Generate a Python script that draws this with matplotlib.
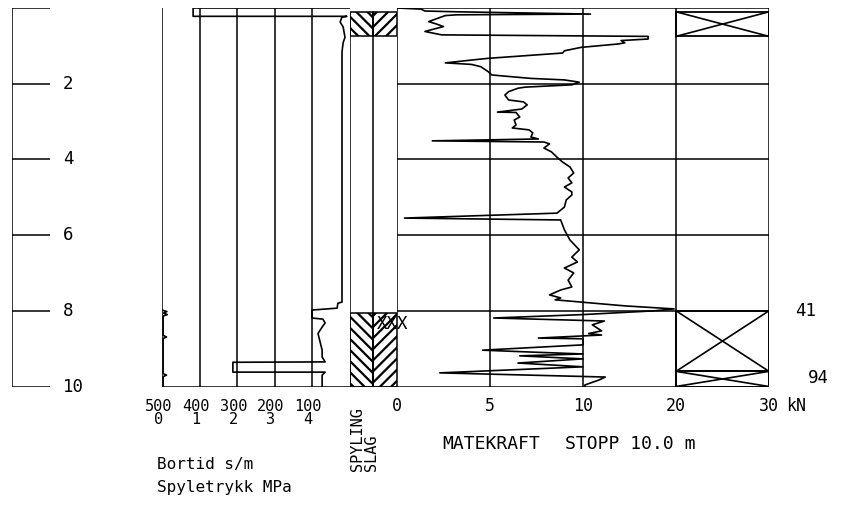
import numpy as np
import matplotlib
matplotlib.use('Agg')
import matplotlib.pyplot as plt
from matplotlib.patches import Rectangle
import matplotlib.transforms as mtransforms

plt.rcParams['font.family'] = ['DejaVu Sans Mono']
plt.rcParams['font.size'] = 11
plt.rcParams['hatch.linewidth'] = 1.6

# depth ticks (m)
depth_ticks = [2, 4, 6, 8, 10]

# bortid (s/m) vs depth
bt_depth = [0, 0, 0.22, 0.22, 0.24, 0.37, 0.5, 0.77, 0.92, 1.16, 3.0, 5.0, 7.45, 7.77, 7.8,
            7.93, 7.98, 8.19, 8.22, 8.32, 8.43, 8.6, 9.04, 9.22, 9.35, 9.36, 9.62, 9.62, 9.7, 10]
bt_value = [0, 417, 417, 7, 20, 25, 17, 12, 17, 20, 20, 20, 20, 20, 31,
            33, 100, 100, 71, 65, 73, 84, 73, 73, 65, 311, 311, 65, 73, 73]

# spyletrykk (MPa) vs depth
sp_depth = [7.98, 8.02, 8.06, 8.1, 8.14, 8.2, 8.65, 8.69, 8.73, 9.66, 9.7, 9.74, 10]
sp_value = [0.0, 0.13, 0.04, 0.14, 0.03, 0.03, 0.03, 0.12, 0.03, 0.03, 0.12, 0.03, 0.03]

# matekraft (kN) vs depth
mk_depth = [0, 0.03, 0.08, 0.1, 0.16, 0.18, 0.2, 0.27, 0.36, 0.42, 0.49, 0.62, 0.66, 0.71, 0.75,
            0.82, 0.86, 0.92, 0.95, 1.04, 1.13, 1.19, 1.33, 1.36, 1.45, 1.49, 1.55, 1.68, 1.77, 1.86,
            1.9, 1.96, 2.03, 2.09, 2.12, 2.21, 2.3, 2.43, 2.48, 2.56, 2.67, 2.75, 2.76, 2.88, 2.96,
            3.09, 3.17, 3.22, 3.3, 3.41, 3.46, 3.51, 3.54, 3.59, 3.7, 3.8, 3.94, 4.07, 4.2, 4.36,
            4.49, 4.62, 4.73, 4.86, 4.94, 5.07, 5.26, 5.42, 5.55, 5.6, 5.86, 6.13, 6.39, 6.58, 6.71,
            6.87, 7.0, 7.19, 7.37, 7.45, 7.58, 7.66, 7.71, 7.87, 7.95, 8.0, 8.1, 8.19, 8.27, 8.37,
            8.53, 8.6, 8.64, 8.72, 8.74, 8.9, 9.04, 9.09, 9.14, 9.19, 9.27, 9.38, 9.48, 9.64, 9.75,
            9.83, 9.96, 10]
mk_value = [0, 1.3, 1.5, 3.2, 10.8, 3.2, 2.6, 2.2, 1.7, 2.1, 2.5, 1.5, 1.9, 2.4, 17.0,
            17.0, 14.1, 14.5, 13.8, 9.9, 9.0, 8.9, 4.9, 4.3, 2.6, 4.0, 4.5, 4.9, 5.1, 7.2,
            9.0, 9.8, 9.4, 6.9, 6.5, 6.0, 5.8, 6.0, 6.8, 7.0, 6.7, 5.4, 6.4, 6.6, 6.3,
            6.4, 6.2, 7.1, 7.3, 7.2, 7.6, 1.9, 7.9, 8.2, 7.9, 8.3, 8.6, 8.9, 9.3, 9.5,
            9.2, 9.4, 9.0, 9.4, 9.4, 9.1, 9.0, 8.6, 0.4, 8.8, 9.0, 9.3, 9.8, 9.4, 9.7,
            9.0, 9.5, 9.2, 9.4, 8.8, 8.2, 8.8, 8.5, 14.5, 19.8, 17.7, 10.0, 5.2, 12.3, 11.0,
            12.0, 10.6, 12.0, 7.6, 10.0, 10.0, 4.6, 7.2, 10.0, 6.6, 10.0, 6.5, 10.0, 2.3, 12.4,
            11.7, 10.2, 10.2]

mk_ticks = [0, 5, 10, 20, 30]
bt_ticks = [500, 400, 300, 200, 100]
sp_ticks = [0, 1, 2, 3, 4]

# hatched / crossed intervals (m)
hatch_top = (0.1, 0.75)
hatch_bottom = (8.05, 10)
x_boxes = [(0.1, 0.75), (8.0, 9.6), (9.6, 10)]


def fwd(f):
    f = np.asarray(f, dtype=float)
    return np.where(f <= 10, f, 10 + (f - 10) / 2)


def inv(u):
    u = np.asarray(u, dtype=float)
    return np.where(u <= 10, u, 10 + (u - 10) * 2)


fig = plt.figure(figsize=(8.42, 5.05), dpi=100)
bottom = (505 - 386.5) / 505
height = 378.5 / 505

ax_d = fig.add_axes([12 / 842, bottom, 38 / 842, height])
ax_bt = fig.add_axes([162 / 842, bottom, 187.5 / 842, height])
ax_sy = fig.add_axes([349.5 / 842, bottom, 47.5 / 842, height])
ax_mk = fig.add_axes([397 / 842, bottom, 372 / 842, height])

for ax in [ax_d, ax_bt, ax_sy, ax_mk]:
    ax.set_ylim(10, 0)
    ax.axis('off')

lw = 1.1

# depth scale
ax_d.set_xlim(0, 1)
ax_d.vlines(0, 0, 10, color='k', lw=lw)
ax_d.hlines([0] + depth_ticks, 0, 1, color='k', lw=lw)
tr = mtransforms.blended_transform_factory(ax_d.transAxes, ax_d.transData)
for d in depth_ticks:
    ax_d.text(1.34, d, str(d), transform=tr, ha='left', va='center', fontsize=12.5)

# bortid / spyletrykk
ax_bt.set_xlim(500, 0)
ax_bt.vlines(bt_ticks, 0, 10, color='k', lw=lw)
ax_bt.hlines(10, 500, 0, color='k', lw=lw)
ax_bt.plot(bt_value, bt_depth, color='k', lw=1.2)
ax_sp = ax_bt.twiny()
ax_sp.set_xlim(0, 5)
ax_sp.set_ylim(10, 0)
ax_sp.axis('off')
ax_sp.plot(sp_value, sp_depth, color='k', lw=1.2)
trb = ax_bt.get_xaxis_transform()
for v in bt_ticks:
    ax_bt.text(v + 10, -0.052, str(v), transform=trb, ha='center', va='center')
trs = ax_sp.get_xaxis_transform()
for v in sp_ticks:
    ax_sp.text(v - 0.1, -0.088, str(v), transform=trs, ha='center', va='center')
ax_bt.text(-0.027, -0.207, 'Bortid s/m', transform=ax_bt.transAxes, ha='left', va='center',
           fontsize=11.5)
ax_bt.text(-0.027, -0.268, 'Spyletrykk MPa', transform=ax_bt.transAxes, ha='left', va='center',
           fontsize=11.5)

# spyling / slag column
ax_sy.set_xlim(0, 2)
ax_sy.vlines([0, 1], 0.1, 10, color='k', lw=lw)
ax_sy.hlines(10, 0, 2, color='k', lw=lw)
for d0, d1 in [hatch_top, hatch_bottom]:
    ax_sy.add_patch(Rectangle((0, d0), 1, d1 - d0, fill=False, hatch='\\\\\\', ec='k', lw=lw))
    ax_sy.add_patch(Rectangle((1, d0), 1, d1 - d0, fill=False, hatch='///', ec='k', lw=lw))
ax_sy.text(1.15, 8.35, 'XXX', ha='left', va='center', fontsize=12.5)
ax_sy.text(0.16, -0.223, 'SPYLING', transform=ax_sy.transAxes, rotation=90,
           ha='center', va='bottom')
ax_sy.text(0.47, -0.223, 'SLAG', transform=ax_sy.transAxes, rotation=90,
           ha='center', va='bottom')

# matekraft
ax_mk.set_xscale('function', functions=(fwd, inv))
ax_mk.set_xlim(0, 30)
ax_mk.vlines(mk_ticks, 0, 10, color='k', lw=lw)
ax_mk.hlines([0, 2, 4, 6, 8, 10], 0, 30, color='k', lw=lw)
for d0, d1 in x_boxes:
    ax_mk.add_patch(Rectangle((20, d0), 10, d1 - d0, fill=False, ec='k', lw=1.3))
    ax_mk.plot([20, 30], [d0, d1], color='k', lw=1.2)
    ax_mk.plot([20, 30], [d1, d0], color='k', lw=1.2)
ax_mk.plot(mk_value, mk_depth, color='k', lw=1.2)
trm = ax_mk.get_xaxis_transform()
for v in mk_ticks:
    ax_mk.text(v, -0.052, str(v), transform=trm, ha='center', va='center', fontsize=12)
ax_mk.text(1.045, -0.052, 'kN', transform=ax_mk.transAxes, ha='left', va='center', fontsize=12)
ax_mk.text(0.121, -0.152, 'MATEKRAFT', transform=ax_mk.transAxes, ha='left', va='center',
           fontsize=13)
ax_mk.text(0.452, -0.152, 'STOPP 10.0 m', transform=ax_mk.transAxes, ha='left', va='center',
           fontsize=13)
trr = mtransforms.blended_transform_factory(ax_mk.transAxes, ax_mk.transData)
ax_mk.text(1.0995, 8.0, '41', transform=trr, ha='center', va='center', fontsize=12.5)
ax_mk.text(1.132, 9.78, '94', transform=trr, ha='center', va='center', fontsize=12.5)

fig.savefig('out.png', dpi=100)
